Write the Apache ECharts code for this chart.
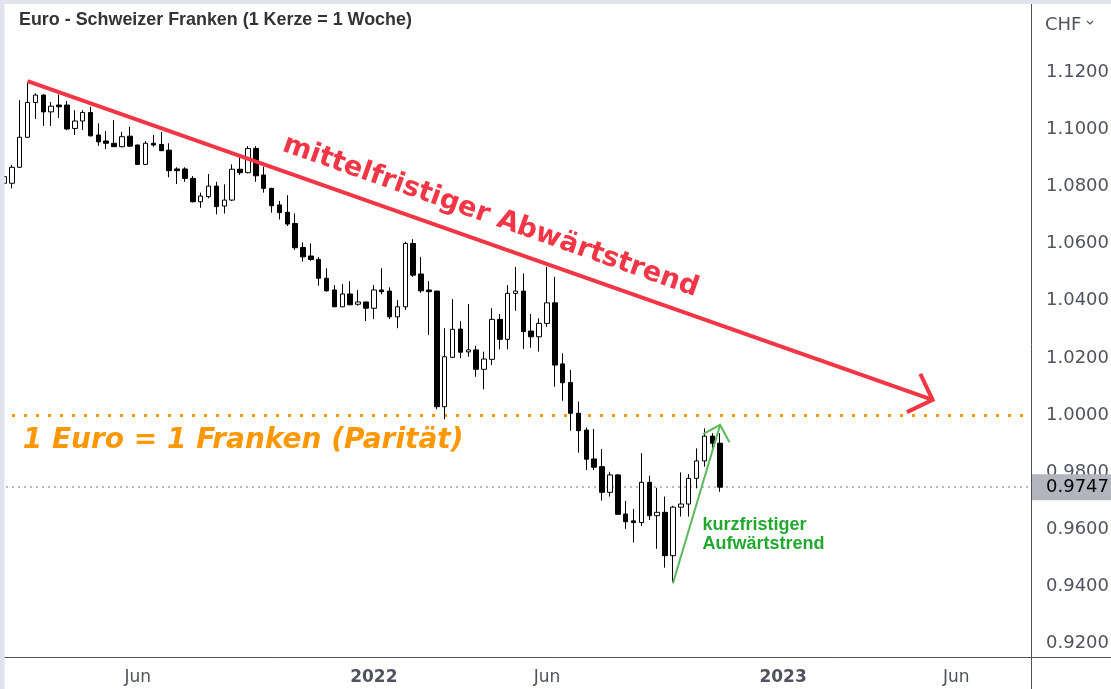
<!DOCTYPE html>
<html><head><meta charset="utf-8">
<script src="https://cdn.jsdelivr.net/npm/echarts@6/dist/echarts.min.js"></script>
<style>html,body{margin:0;padding:0;background:#fff}#c{width:1111px;height:689px}</style>
</head><body><div id="c"></div>
<script>
// ---- data ----
const titleText = 'Euro - Schweizer Franken (1 Kerze = 1 Woche)';
const firstWeek = Date.UTC(2021, 1, 1); // week starting Mon 2021-02-01
const weekCount = 131;
const opens  = [1.0812,1.0812,1.0868,1.0973,1.1095,1.1121,1.1062,1.1086,1.1086,1.1004,1.1030,1.1060,1.0981,1.0960,1.0952,1.0940,1.0977,1.0946,1.0878,1.0952,1.0948,1.0928,1.0862,1.0862,1.0829,1.0747,1.0765,1.0802,1.0732,1.0753,1.0861,1.0849,1.0934,1.0841,1.0794,1.0736,1.0710,1.0671,1.0587,1.0557,1.0545,1.0479,1.0438,1.0379,1.0424,1.0388,1.0396,1.0374,1.0438,1.0434,1.0344,1.0379,1.0601,1.0494,1.0438,1.0434,1.0029,1.0202,1.0301,1.0221,1.0228,1.0160,1.0195,1.0335,1.0265,1.0426,1.0434,1.0294,1.0274,1.0321,1.0393,1.0179,1.0114,1.0006,0.9947,0.9846,0.9819,0.9729,0.9790,0.9653,0.9629,0.9623,0.9764,0.9647,0.9659,0.9507,0.9677,0.9688,0.9778,0.9839,0.9926,0.9901];
const closes = [1.0835,1.0868,1.0973,1.1095,1.1121,1.1062,1.1082,1.1080,1.1002,1.1030,1.1060,1.0978,1.0957,1.0952,1.0940,1.0975,1.0942,1.0878,1.0952,1.0946,1.0926,1.0856,1.0856,1.0829,1.0747,1.0767,1.0802,1.0730,1.0753,1.0861,1.0849,1.0934,1.0838,1.0794,1.0733,1.0709,1.0669,1.0586,1.0554,1.0545,1.0479,1.0435,1.0379,1.0424,1.0386,1.0396,1.0374,1.0438,1.0432,1.0344,1.0379,1.0601,1.0490,1.0435,1.0432,1.0029,1.0204,1.0300,1.0220,1.0228,1.0160,1.0196,1.0335,1.0265,1.0426,1.0434,1.0292,1.0274,1.0321,1.0393,1.0175,1.0113,1.0006,0.9945,0.9845,0.9817,0.9729,0.9790,0.9652,0.9626,0.9623,0.9764,0.9647,0.9659,0.9507,0.9677,0.9688,0.9778,0.9839,0.9926,0.9901,0.9747];
const lows   = [1.0808,1.0794,1.0866,1.0970,1.1037,1.1013,1.1013,1.1041,1.0998,1.0981,1.0998,1.0976,1.0943,1.0932,1.0939,1.0938,1.0939,1.0877,1.0877,1.0940,1.0925,1.0833,1.0809,1.0817,1.0745,1.0726,1.0759,1.0703,1.0706,1.0750,1.0841,1.0847,1.0817,1.0779,1.0709,1.0685,1.0662,1.0578,1.0537,1.0540,1.0453,1.0432,1.0378,1.0378,1.0385,1.0383,1.0329,1.0336,1.0423,1.0336,1.0304,1.0368,1.0484,1.0428,1.0280,1.0020,0.9985,1.0199,1.0199,1.0204,1.0134,1.0090,1.0175,1.0230,1.0230,1.0365,1.0231,1.0236,1.0222,1.0309,1.0099,1.0050,0.9945,0.9868,0.9807,0.9807,0.9700,0.9714,0.9650,0.9601,0.9553,0.9611,0.9632,0.9531,0.9465,0.9416,0.9644,0.9644,0.9743,0.9819,0.9875,0.9731];
const highs  = [1.0838,1.0876,1.1103,1.1166,1.1127,1.1124,1.1097,1.1123,1.1100,1.1068,1.1068,1.1080,1.1022,1.0995,1.1033,1.0992,1.1010,1.0947,1.0960,1.0981,1.0992,1.0952,1.0868,1.0868,1.0837,1.0779,1.0844,1.0817,1.0808,1.0878,1.0907,1.0942,1.0942,1.0870,1.0796,1.0750,1.0770,1.0706,1.0605,1.0601,1.0554,1.0514,1.0455,1.0459,1.0469,1.0438,1.0397,1.0455,1.0514,1.0447,1.0403,1.0607,1.0616,1.0554,1.0469,1.0436,1.0304,1.0406,1.0329,1.0389,1.0242,1.0222,1.0374,1.0354,1.0455,1.0519,1.0496,1.0354,1.0339,1.0519,1.0484,1.0216,1.0158,1.0047,0.9956,0.9951,0.9881,0.9801,0.9793,0.9699,0.9671,0.9866,0.9787,0.9745,0.9714,0.9682,0.9799,0.9793,0.9883,0.9953,0.9936,0.9936];
const tickLabels = [['2021-05-31','Jun',false],['2021-12-27','2022',true],['2022-05-30','Jun',false],['2022-12-26','2023',true],['2023-05-29','Jun',false]];
const yRange = [0.9152, 1.1440];
const yLabelMax = 1.12;
const parityLevel = 1.0;
const trendLine = [['2021-02-22', 1.1170], ['2023-05-08', 1.0053]];
const shortTrend = [['2022-09-19', 0.9410], ['2022-10-31', 0.9965]];
const trendText = 'mittelfristiger Abwärtstrend';
const parityText = '1 Euro = 1 Franken (Parität)';
const parityTextAnchor = ['2021-02-15', 0.9909];
const shortText = 'kurzfristiger\nAufwärtstrend';
const shortTextAnchor = ['2022-10-10', 0.9580];
const currency = 'CHF';

// ---- build ----
const categories = [];
for (let i = 0; i < weekCount; i++) {
  categories.push(new Date(firstWeek + i * 7 * 86400000).toISOString().slice(0, 10));
}
const candles = opens.map((o, i) => [o, closes[i], lows[i], highs[i]]);
const lastClose = closes[closes.length - 1];
const tickMap = {};
tickLabels.forEach(t => tickMap[t[0]] = t);

const RED = '#f23645', ORANGE = '#ff9800', GREEN_TXT = '#22a82e', GREEN_LINE = '#5cb85c';
const AX = '#50535e';
const FONT = 'DejaVu Sans';

const chart = echarts.init(document.getElementById('c'), null, {renderer: 'canvas'});
chart.setOption({
  animation: false,
  backgroundColor: '#ffffff',
  grid: {left: 0, top: 4, right: 80, bottom: 32, containLabel: false, outerBoundsMode: 'none'},
  xAxis: {
    type: 'category', data: categories, boundaryGap: true,
    axisLine: {show: false}, axisTick: {show: false}, splitLine: {show: false},
    axisLabel: {
      interval: (idx, val) => !!tickMap[val],
      formatter: val => tickMap[val] ? (tickMap[val][2] ? '{b|' + tickMap[val][1] + '}' : '{n|' + tickMap[val][1] + '}') : '',
      margin: 12,
      rich: {
        n: {fontFamily: FONT, fontSize: 17, color: AX},
        b: {fontFamily: FONT, fontSize: 17, color: AX, fontWeight: 'bold'}
      }
    }
  },
  yAxis: {
    type: 'value', position: 'right', min: yRange[0], max: yRange[1], splitNumber: 11, scale: true,
    axisLine: {show: false}, axisTick: {show: false}, splitLine: {show: false},
    axisLabel: {
      formatter: v => v > yLabelMax + 1e-9 ? '' : v.toFixed(4), color: AX, fontFamily: FONT, fontSize: 18, margin: 15,
      showMinLabel: false, showMaxLabel: false
    }
  },
  series: [
    {
      type: 'candlestick', data: candles, barWidth: 5, z: 3,
      itemStyle: {color: '#ffffff', color0: '#000000', borderColor: '#000000', borderColor0: '#000000', borderWidth: 1}
    },
    {
      type: 'line', data: trendLine, symbol: 'none', z: 5, silent: true,
      lineStyle: {color: RED, width: 4, cap: 'butt'},
      markLine: {
        silent: true, symbol: 'none', label: {show: false}, animation: false, z: 2, precision: 6,
        data: [
          {yAxis: parityLevel, lineStyle: {color: ORANGE, type: [3, 9], width: 3, cap: 'butt'}},
          {yAxis: lastClose, lineStyle: {color: '#a3a6af', type: [2, 4], width: 1.5}}
        ]
      }
    },
    {
      type: 'line', data: shortTrend, symbol: 'none', z: 5, silent: true,
      lineStyle: {color: GREEN_LINE, width: 2}
    }
  ]
});

function px(pt) {
  return chart.convertToPixel({gridIndex: 0}, [categories.indexOf(pt[0]), pt[1]]);
}
const t0 = px(trendLine[0]), t1 = px(trendLine[1]);
const ang = Math.atan2(t1[1] - t0[1], t1[0] - t0[0]);
const ux = Math.cos(ang), uy = Math.sin(ang);
const nx = uy, ny = -ux; // normal pointing up
const mid = [(t0[0] + t1[0]) / 2 + ux * 2 + nx * 26, (t0[1] + t1[1]) / 2 + uy * 2 + ny * 26];
const s0 = px(shortTrend[0]), s1 = px(shortTrend[1]);
const pa = px(parityTextAnchor);
const sa = px(shortTextAnchor);
const priceY = chart.convertToPixel({yAxisIndex: 0}, lastClose);

chart.setOption({
  graphic: [
    {type: 'text', z: 50, x: mid[0], y: mid[1], rotation: -ang,
      style: {text: trendText, fill: RED, font: 'bold 27.4px "DejaVu Sans"', align: 'center', verticalAlign: 'middle'}},
    {type: 'polyline', z: 50, shape: {points: [[t1[0] - 12.3, t1[1] - 26], [t1[0], t1[1]], [t1[0] - 25.7, t1[1] + 12.3]]},
      style: {stroke: RED, lineWidth: 4, fill: null, lineJoin: 'miter'}},
    {type: 'polyline', z: 50, shape: {points: [[s1[0] - 16.7, s1[1] + 9], [s1[0], s1[1]], [s1[0] + 9.3, s1[1] + 17.3]]},
      style: {stroke: GREEN_LINE, lineWidth: 2, fill: null}},
    {type: 'text', z: 50, x: pa[0] + 3, y: pa[1],
      style: {text: parityText, fill: ORANGE, font: 'italic bold 28px "DejaVu Sans"', align: 'left', verticalAlign: 'middle'}},
    {type: 'text', z: 50, x: sa[0] + 6, y: sa[1],
      style: {text: shortText, fill: GREEN_TXT, font: 'bold 18px "Liberation Sans"', lineHeight: 19, align: 'left', verticalAlign: 'middle'}},
    // price label box
    {type: 'rect', z: 60, shape: {x: 1032, y: priceY - 13, width: 79, height: 26}, style: {fill: '#b2b5be'}},
    {type: 'text', z: 61, x: 1046, y: priceY,
      style: {text: lastClose.toFixed(4), fill: '#000', font: '18px "DejaVu Sans"', verticalAlign: 'middle'}},
    // currency label
    {type: 'text', z: 61, x: 1045, y: 25, style: {text: currency, fill: AX, font: '18px "DejaVu Sans"', verticalAlign: 'middle'}},
    {type: 'polyline', z: 61, shape: {points: [[1087, 21], [1090, 24], [1093, 21]]}, style: {stroke: AX, lineWidth: 1.2, fill: null}},
    // frame & separators
    {type: 'line', z: 70, shape: {x1: 1031.5, y1: 0, x2: 1031.5, y2: 689}, style: {stroke: AX, lineWidth: 1}},
    {type: 'line', z: 70, shape: {x1: 0, y1: 657.5, x2: 1111, y2: 657.5}, style: {stroke: AX, lineWidth: 1}},
    {type: 'rect', z: 80, shape: {x: 0, y: 0, width: 1111, height: 4}, style: {fill: '#e0e3eb'}},
    {type: 'rect', z: 80, shape: {x: 0, y: 0, width: 4.5, height: 689}, style: {fill: '#e0e3eb'}},
    // title
    {type: 'text', z: 81, x: 19, y: 20, style: {text: titleText, fill: '#333333', font: 'bold 17.9px "Liberation Sans"', verticalAlign: 'middle'}}
  ]
});
</script></body></html>
